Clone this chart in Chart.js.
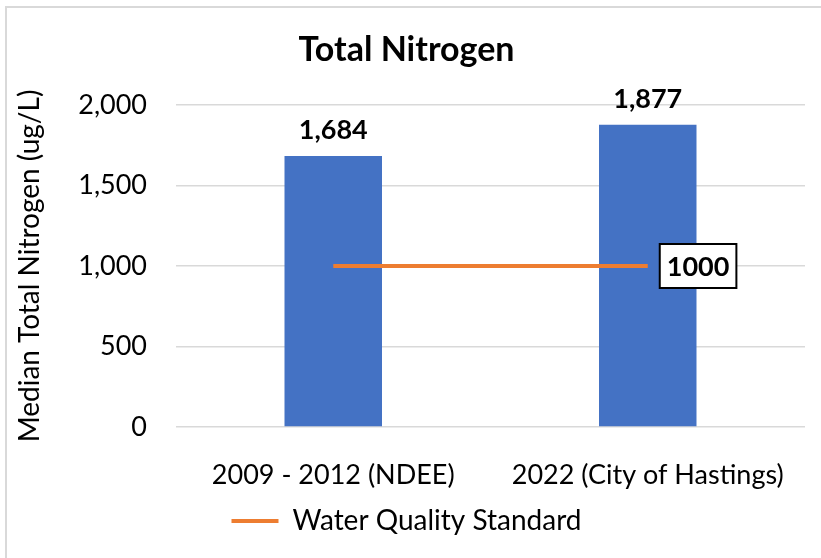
<!DOCTYPE html>
<html>
<head>
<meta charset="utf-8">
<script src="https://cdn.jsdelivr.net/npm/chart.js@4/dist/chart.umd.min.js"></script>
<style>
    html, body { margin: 0; padding: 0; background: #fff; overflow: hidden; }
    #wrap { position: relative; width: 821px; height: 558px; }
    #frame {
        position: absolute; left: 5px; top: 6px; width: 830px; height: 570px;
        border-top: 2px solid #d9d9d9; border-left: 2px solid #d9d9d9;
        pointer-events: none;
    }
</style>
</head>
<body>
<div id="wrap">
    <canvas id="nitrogenChart" width="821" height="558"></canvas>
    <div id="frame"></div>
</div>
<script>
const categories = ['2009 - 2012 (NDEE)', '2022 (City of Hastings)'];
const medianValues = [1684, 1877];
const standardValues = [1000, 1000];
const yTicks = [0, 500, 1000, 1500, 2000];

const FONT = 'Lato, "Open Sans", sans-serif';

// draws the value labels above bars and the boxed label at the end of the line
const valueLabels = {
    id: 'valueLabels',
    afterDatasetsDraw(chart) {
        const ctx = chart.ctx;
        ctx.save();
        ctx.textAlign = 'center';
        ctx.textBaseline = 'middle';
        ctx.font = 'bold 27px ' + FONT;
        ctx.fillStyle = '#000';
        chart.getDatasetMeta(0).data.forEach(function(bar, i) {
            ctx.fillText(medianValues[i].toLocaleString('en-US'), bar.x, bar.y - 26);
        });

        const pts = chart.getDatasetMeta(1).data;
        const last = pts[pts.length - 1];
        const text = String(standardValues[standardValues.length - 1]);
        const w = ctx.measureText(text).width + 14;
        const h = 44;
        const bx = last.x + 12;
        const by = last.y - h / 2;
        ctx.fillStyle = '#fff';
        ctx.fillRect(bx, by, w, h);
        ctx.lineWidth = 2;
        ctx.strokeStyle = '#000';
        ctx.strokeRect(bx, by, w, h);
        ctx.fillStyle = '#000';
        ctx.fillText(text, bx + w / 2, last.y + 1);
        ctx.restore();
    }
};

const nitrogenChart = new Chart(document.getElementById('nitrogenChart'), {
    type: 'bar',
    data: {
        labels: categories,
        datasets: [{
            label: 'Median Total Nitrogen',
            data: medianValues,
            backgroundColor: '#4472C4',
            barPercentage: 0.62,
            categoryPercentage: 0.5,
            order: 2
        }, {
            type: 'line',
            label: 'Water Quality Standard',
            data: standardValues,
            borderColor: '#ED7D31',
            backgroundColor: '#ED7D31',
            borderWidth: 4,
            pointRadius: 0,
            pointStyle: 'line',
            order: 1
        }]
    },
    options: {
        responsive: false,
        animation: false,
        layout: { padding: { left: 8, right: 16, top: 0, bottom: 13 } },
        plugins: {
            title: {
                display: true,
                text: 'Total Nitrogen',
                color: '#000',
                font: { family: FONT, size: 34, weight: 'bold' },
                padding: { top: 29.6, bottom: 34.6 }
            },
            legend: {
                position: 'bottom',
                labels: {
                    filter: function(item) { return item.datasetIndex === 1; },
                    usePointStyle: true,
                    pointStyle: 'line',
                    pointStyleWidth: 47,
                    color: '#000',
                    font: { family: FONT, size: 28 },
                    padding: 10
                }
            },
            tooltip: { enabled: false }
        },
        scales: {
            x: {
                grid: { display: false },
                border: { display: false },
                ticks: { color: '#000', font: { family: FONT, size: 27 }, padding: 24, maxRotation: 0 },
                afterFit: function(scale) { scale.height = 70; }
            },
            y: {
                min: 0,
                max: 2000,
                afterBuildTicks: function(scale) {
                    scale.ticks = yTicks.map(function(v) { return { value: v }; });
                },
                grid: { color: '#d9d9d9', lineWidth: 1.5, drawTicks: false },
                border: { display: false },
                ticks: {
                    color: '#000',
                    font: { family: FONT, size: 27 },
                    padding: 29,
                    callback: function(v) { return Number(v).toLocaleString('en-US'); }
                },
                title: {
                    display: true,
                    text: 'Median Total Nitrogen (ug/L)',
                    color: '#000',
                    font: { family: FONT, size: 28 },
                    padding: { top: 5, bottom: 0 }
                },
                afterFit: function(scale) { scale.width = 168; }
            }
        }
    },
    plugins: [valueLabels]
});
</script>
</body>
</html>
